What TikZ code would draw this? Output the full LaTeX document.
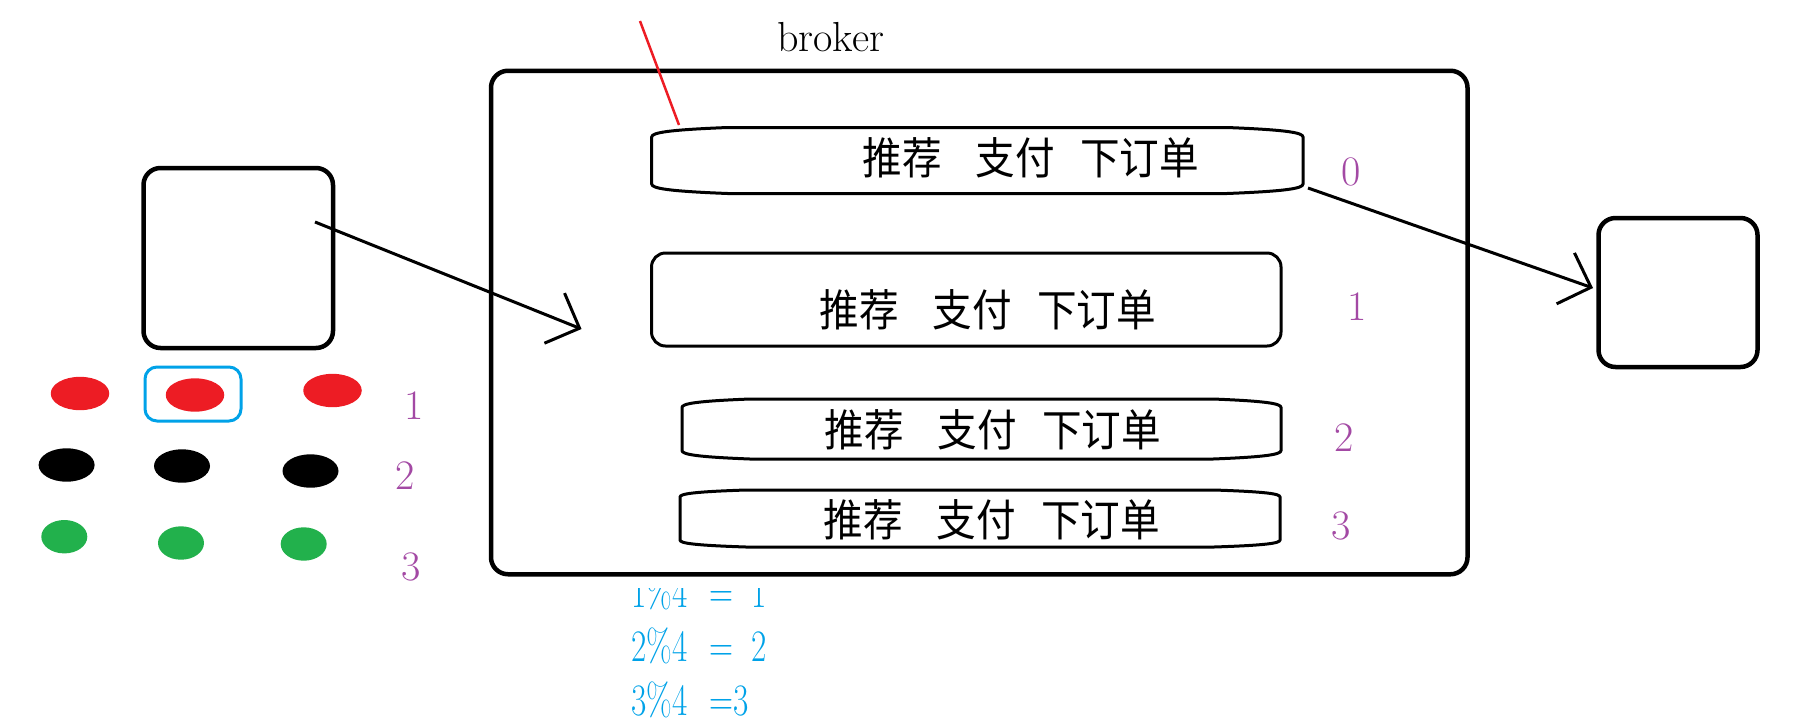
\documentclass[tikz,border=0pt]{standalone}
\usepackage{fontspec}
\newfontfamily\cjk{Noto Sans CJK SC}
\usetikzlibrary{arrows.meta,shapes.geometric}
\definecolor{lblpurple}{RGB}{163,73,164}
\definecolor{fblue}{RGB}{0,162,232}
\definecolor{dotred}{RGB}{237,28,36}
\definecolor{dotgreen}{RGB}{34,177,76}
% l r t b dx dy
\newcommand{\slotpath}[6]{%
\draw[slot] ({#1+#5},#3) -- ({#2-#5},#3)
 .. controls ({#2-0.2*#5},{#3+0.25*#6}) and (#2,{#3+0.55*#6}) .. (#2,{#3+#6})
 -- (#2,{#4-#6})
 .. controls (#2,{#4-0.55*#6}) and ({#2-0.2*#5},{#4-0.25*#6}) .. ({#2-#5},#4)
 -- ({#1+#5},#4)
 .. controls ({#1+0.2*#5},{#4-0.25*#6}) and (#1,{#4-0.55*#6}) .. (#1,{#4-#6})
 -- (#1,{#3+#6})
 .. controls (#1,{#3+0.55*#6}) and ({#1+0.2*#5},{#3+0.25*#6}) .. ({#1+#5},#3) -- cycle;}
\newcommand{\topics}{\scalebox{0.9}[1]{推荐\hspace{37.8pt}支付\hspace{27.8pt}下订单}}
\begin{document}
\begin{tikzpicture}[x=1pt,y=-1pt,
  bigbox/.style={draw=black, line width=4.5pt, rounded corners=17pt, inner sep=0pt},
  slot/.style={draw=black, line width=3pt},
  conn/.style={line width=3pt, -{Straight Barb[length=27pt,width=54pt]}},
  lbl/.style={text=lblpurple, font=\fontsize{42pt}{42pt}\selectfont, inner sep=0pt},
  cn/.style={font=\cjk\fontsize{44pt}{44pt}\selectfont, inner sep=0pt, anchor=west},
  fm/.style={text=fblue, font=\fontsize{45pt}{45pt}\selectfont, inner sep=0pt, anchor=base west},
  dot/.style={ellipse, draw=none, inner sep=0pt, minimum height=33.4pt}]
\useasboundingbox (0,0) rectangle (1795,724);

% formulas (first line partly hidden under the broker box)
\begin{scope}
  \clip (600,588) rectangle (820,640);
  \node[fm] (f1) at (631.5,607.7) {\scalebox{0.74}[1]{1\%4\hspace{29pt}=\hspace{25pt}1}};
\end{scope}
\node[fm] (f2) at (631.5,661.7) {\scalebox{0.74}[1]{2\%4\hspace{29pt}=\hspace{25pt}2}};
\node[fm] (f3) at (631.5,715) {\scalebox{0.74}[1]{3\%4\hspace{29pt}=3}};

% broker
\node[font=\fontsize{42pt}{42pt}\selectfont, inner sep=0pt, anchor=base west] (brokerlbl) at (777,51.7) {broker};
\node[bigbox, minimum width=976.5pt, minimum height=503.5pt] (broker) at (979.25,322.5) {};

% partitions
\slotpath{651.7}{1303}{127.5}{193.5}{76}{9.5}
\node[draw=black, line width=3pt, rounded corners=14pt, minimum width=629.5pt, minimum height=93pt, inner sep=0pt] (p1) at (966.25,299.5) {};
\slotpath{682}{1281}{399}{459}{68}{8.5}
\slotpath{680}{1280}{490}{547}{66}{7}

\node[cn] (t0) at (862.5,158) {\topics};
\node[cn] (t1) at (819.5,310) {\topics};
\node[cn] (t2) at (824.5,429.5) {\topics};
\node[cn] (t3) at (823.5,520) {\topics};

\node[lbl] (n0) at (1351,172) {0};
\node[lbl] (n1) at (1357,307) {1};
\node[lbl] (n2) at (1344,438) {2};
\node[lbl] (n3) at (1341,526) {3};

% producer and consumer
\node[bigbox, minimum width=189.5pt, minimum height=180pt] (prod) at (238.25,258) {};
\node[bigbox, minimum width=159pt, minimum height=149pt] (cons) at (1678,292.5) {};

% messages
\node[draw=fblue, line width=3pt, rounded corners=12pt, minimum width=96pt, minimum height=54pt, inner sep=0pt] (sel) at (193,394) {};
\node[dot, fill=dotred, minimum width=58.5pt] (r1) at (80,393.5) {};
\node[dot, fill=dotred, minimum width=58.5pt] (r2) at (195,395) {};
\node[dot, fill=dotred, minimum width=58.5pt] (r3) at (332.5,390.5) {};
\node[dot, fill=black, minimum width=56pt] (k1) at (66.6,465) {};
\node[dot, fill=black, minimum width=56pt] (k2) at (182,466) {};
\node[dot, fill=black, minimum width=56pt] (k3) at (310.5,471) {};
\node[dot, fill=dotgreen, minimum width=46pt] (g1) at (64.3,536.7) {};
\node[dot, fill=dotgreen, minimum width=46pt] (g2) at (181,543) {};
\node[dot, fill=dotgreen, minimum width=46pt] (g3) at (303.7,544) {};
\node[lbl] (m1) at (414,406) {1};
\node[lbl] (m2) at (405,476) {2};
\node[lbl] (m3) at (411,567) {3};

% connectors
\coordinate (a1s) at (315,222);
\coordinate (a1e) at (581.5,329);
\coordinate (a2s) at (1308,188);
\coordinate (a2e) at (1593,288);
\draw[conn] (a1s) -- (a1e);
\draw[conn] (a2s) -- (a2e);
\coordinate (rs) at (640,21);
\coordinate (re) at (679,125);
\draw[dotred, line width=2.5pt] (rs) -- (re);
\end{tikzpicture}
\end{document}
